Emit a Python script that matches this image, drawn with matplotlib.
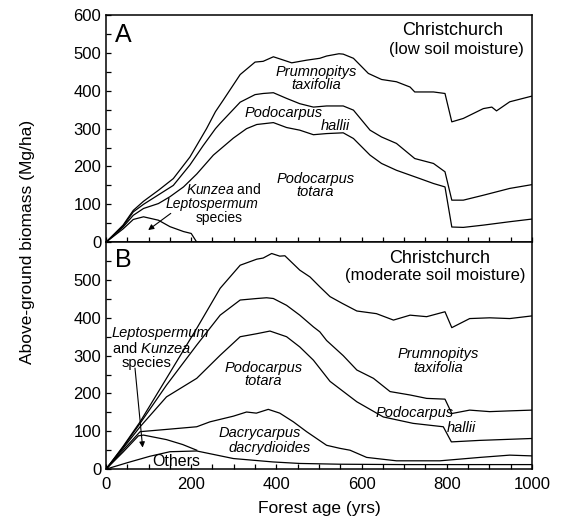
import matplotlib
matplotlib.use("Agg")
import matplotlib.pyplot as plt
from matplotlib.ticker import MultipleLocator

plt.rcParams['font.family'] = ['Liberation Sans', 'DejaVu Sans']
plt.rcParams['mathtext.fontset'] = 'custom'
plt.rcParams['mathtext.rm'] = 'Liberation Sans'
plt.rcParams['mathtext.it'] = 'Liberation Sans:italic'

# panel A - low soil moisture (cumulative biomass, Mg/ha)
a_prum_yr = [0, 40, 64, 88, 100, 123, 158, 197, 236, 257, 275, 315, 350, 369, 393, 412, 436, 471, 502, 518, 547, 557, 581, 616, 647, 682, 714, 725, 769, 796, 812, 839, 886, 906, 917, 948, 1000]
a_prum = [0, 45, 84, 108, 118, 137, 168, 225, 300, 345, 375, 443, 476, 478, 490, 483, 474, 481, 486, 492, 498, 497, 486, 446, 430, 424, 410, 397, 397, 393, 318, 327, 353, 357, 347, 371, 386]

a_hall_yr = [0, 40, 64, 88, 123, 158, 197, 228, 257, 268, 315, 350, 369, 393, 424, 455, 487, 518, 557, 581, 620, 647, 682, 725, 769, 796, 812, 839, 886, 948, 1000]
a_hall = [0, 42, 80, 100, 125, 150, 204, 255, 300, 314, 370, 390, 393, 395, 380, 366, 357, 360, 360, 349, 296, 278, 261, 221, 208, 186, 111, 111, 124, 142, 152]

a_tota_yr = [0, 40, 64, 88, 123, 150, 182, 213, 252, 299, 330, 354, 393, 424, 455, 487, 518, 557, 581, 620, 647, 682, 737, 769, 796, 812, 839, 886, 948, 1000]
a_tota = [0, 40, 71, 89, 102, 120, 146, 180, 230, 275, 300, 311, 316, 303, 296, 284, 287, 289, 274, 230, 208, 190, 168, 155, 146, 40, 39, 45, 54, 61]

a_kunz_yr = [0, 40, 64, 88, 123, 150, 182, 200, 213, 270]
a_kunz = [0, 35, 60, 67, 58, 41, 28, 23, 0, 0]

# panel B - moderate soil moisture (cumulative biomass, Mg/ha)
b_prum_yr = [0, 40, 80, 142, 213, 268, 315, 354, 369, 389, 408, 420, 455, 479, 502, 526, 555, 589, 635, 675, 714, 753, 796, 812, 854, 901, 948, 1000]
b_prum = [0, 60, 125, 240, 372, 478, 539, 555, 558, 570, 563, 564, 526, 508, 482, 456, 438, 418, 411, 394, 407, 403, 416, 374, 398, 400, 398, 405]

b_hall_yr = [0, 40, 80, 142, 213, 268, 315, 354, 377, 393, 424, 455, 487, 502, 518, 557, 589, 628, 667, 714, 753, 796, 812, 854, 901, 948, 1000]
b_hall = [0, 58, 121, 222, 328, 407, 447, 451, 453, 451, 433, 407, 376, 363, 340, 300, 262, 240, 205, 196, 187, 185, 147, 156, 152, 154, 156]

b_tota_yr = [0, 40, 80, 142, 213, 268, 315, 354, 385, 424, 455, 487, 526, 589, 651, 721, 792, 811, 878, 1000]
b_tota = [0, 55, 112, 191, 240, 301, 350, 358, 365, 350, 323, 288, 232, 178, 138, 121, 112, 72, 76, 81]

b_dacr_yr = [0, 40, 80, 142, 213, 244, 299, 330, 353, 381, 408, 440, 471, 518, 549, 573, 612, 682, 784, 878, 948, 1000]
b_dacr = [0, 50, 99, 105, 112, 125, 140, 151, 148, 158, 148, 125, 99, 63, 55, 50, 31, 22, 22, 31, 37, 35]

b_lept_yr = [0, 40, 76, 88, 142, 180, 213]
b_lept = [0, 45, 88, 90, 78, 65, 50]

b_othr_yr = [0, 50, 103, 150, 213, 299, 392, 455, 549, 700, 850, 1000]
b_othr = [0, 17, 34, 46, 48, 28, 19, 15, 13, 12, 12, 12]

fig = plt.figure(figsize=(5.64, 5.23), dpi=100)
axA = fig.add_axes([0.188, 0.537, 0.755, 0.434])
axB = fig.add_axes([0.188, 0.103, 0.755, 0.434])

lw = 0.9
for x, y in [(a_prum_yr, a_prum), (a_hall_yr, a_hall), (a_tota_yr, a_tota), (a_kunz_yr, a_kunz)]:
    axA.plot(x, y, color='black', lw=lw)
for x, y in [(b_prum_yr, b_prum), (b_hall_yr, b_hall), (b_tota_yr, b_tota),
             (b_dacr_yr, b_dacr), (b_lept_yr, b_lept), (b_othr_yr, b_othr)]:
    axB.plot(x, y, color='black', lw=lw)

for ax in (axA, axB):
    ax.set_xlim(0, 1000)
    ax.set_ylim(0, 600)
    ax.xaxis.set_major_locator(MultipleLocator(200))
    ax.xaxis.set_minor_locator(MultipleLocator(50))
    ax.yaxis.set_major_locator(MultipleLocator(100))
    ax.yaxis.set_minor_locator(MultipleLocator(50))
    ax.tick_params(which='both', direction='in', length=3.5, width=0.9,
                   top=False, right=False, labelsize=12)
    ax.tick_params(axis='x', pad=6)
    for s in ax.spines.values():
        s.set_linewidth(1.1)

axA.tick_params(labelbottom=False)
axB.set_yticks([0, 100, 200, 300, 400, 500])
axB.yaxis.set_minor_locator(MultipleLocator(50))
axB.set_xlabel('Forest age (yrs)', fontsize=12.5, labelpad=6)
fig.text(0.048, 0.537, 'Above-ground biomass (Mg/ha)', rotation=90,
         ha='center', va='center', fontsize=12.5)

it = dict(style='italic', fontsize=10.5, ha='center', va='center')

# panel A labels
axA.text(22, 548, 'A', fontsize=18, ha='left', va='center')
axA.text(815, 560, 'Christchurch', fontsize=13, ha='center', va='center')
axA.text(822, 510, '(low soil moisture)', fontsize=12, ha='center', va='center')
axA.text(493, 432, 'Prumnopitys\ntaxifolia', linespacing=0.95, **it)
axA.text(416, 342, 'Podocarpus', **it)
axA.text(538, 307, 'hallii', **it)
axA.text(491, 150, 'Podocarpus\ntotara', linespacing=0.95, **it)
axA.text(277, 139, r'$\it{Kunzea}$ and', fontsize=10, ha='center', va='center')
axA.text(248, 102, 'Leptospermum', style='italic', fontsize=10, ha='center', va='center')
axA.text(265, 65, 'species', fontsize=10, ha='center', va='center')
axA.annotate('', xy=(99, 32), xytext=(152, 76),
             arrowprops=dict(arrowstyle='-|>', color='black', lw=0.8,
                             mutation_scale=8, shrinkA=0, shrinkB=0))

# panel B labels
axB.text(22, 553, 'B', fontsize=18, ha='left', va='center')
axB.text(784, 557, 'Christchurch', fontsize=13, ha='center', va='center')
axB.text(772, 513, '(moderate soil moisture)', fontsize=12, ha='center', va='center')
axB.text(13, 359, 'Leptospermum', style='italic', fontsize=10.5, ha='left', va='center')
axB.text(13, 319, r'and $\it{Kunzea}$', fontsize=10.5, ha='left', va='center')
axB.text(37, 281, 'species', fontsize=10.5, ha='left', va='center')
axB.annotate('', xy=(86, 57), xytext=(68, 267),
             arrowprops=dict(arrowstyle='-|>', color='black', lw=0.8,
                             mutation_scale=8, shrinkA=0, shrinkB=0))
axB.text(369, 250, 'Podocarpus\ntotara', linespacing=0.95, **it)
axB.text(780, 286, 'Prumnopitys\ntaxifolia', linespacing=0.95, **it)
axB.text(725, 149, 'Podocarpus', **it)
axB.text(835, 108, 'hallii', **it)
axB.text(362, 96, 'Dacrycarpus', **it)
axB.text(385, 57, 'dacrydioides', **it)
axB.text(166, 19, 'Others', fontsize=11.5, ha='center', va='center')

fig.savefig('out.png', dpi=100)
